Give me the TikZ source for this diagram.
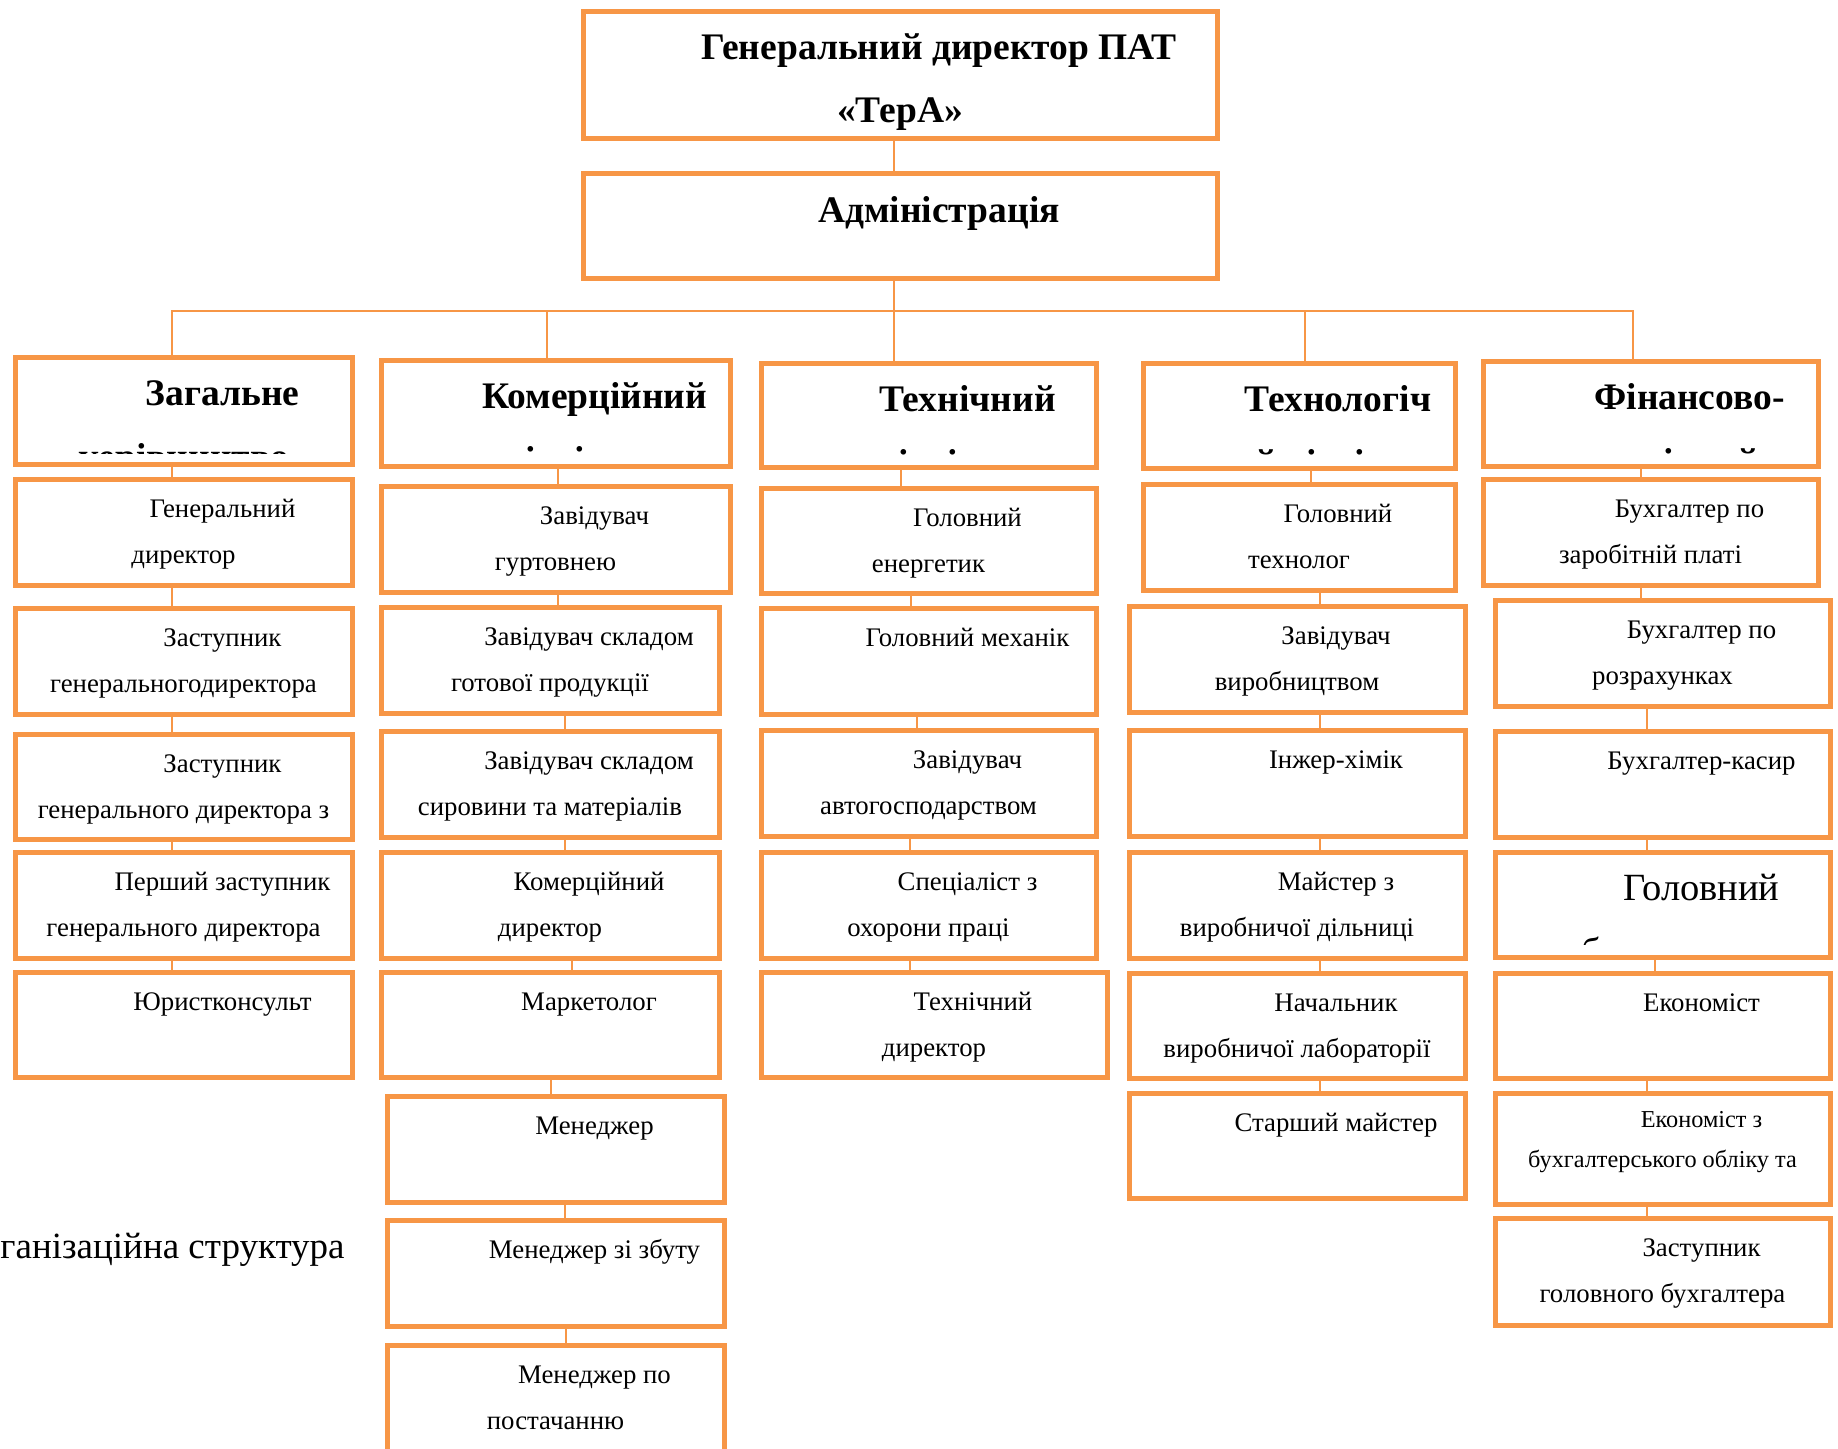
\documentclass[tikz,border=0pt]{standalone}
\usepackage{fontspec}
\setmainfont{Liberation Serif}
\usetikzlibrary{calc}
\definecolor{borange}{RGB}{247,150,70}
\tikzset{
  box/.style={draw=borange, line width=5pt, inner sep=0pt, outer sep=0pt},
  conn/.style={draw=borange, line width=2pt},
  txt/.style={inner sep=0pt, anchor=base, font=\fontsize{26.8}{30}\selectfont},
  stxt/.style={inner sep=0pt, anchor=base, font=\fontsize{24.3}{28}\selectfont},
  htxt/.style={inner sep=0pt, anchor=base, font=\fontsize{37.5}{42}\selectfont\bfseries},
  btxt/.style={inner sep=0pt, anchor=base, font=\fontsize{38.5}{42}\selectfont},
  ctxt/.style={inner sep=0pt, anchor=base west, font=\fontsize{37}{42}\selectfont},
}
\newcommand\mkbox[5]{\node[box, minimum width={(#4)-(#2)}, minimum height={(#5)-(#3)}] (#1) at ({((#2)+(#4))/2},{((#3)+(#5))/2}) {};}
\newcommand\two[3]{%
  \node[txt] (#1a) at ($(#1.north)+(39,38)$) {#2};
  \node[txt] (#1b) at ($(#1.north)+(0,84)$) {#3};}
\newcommand\one[2]{\node[txt] (#1a) at ($(#1.north)+(39,38)$) {#2};}
\newcommand\head[6][htxt]{%
  \node[#1] (#2a) at ($(#2.north)+(39,48)$) {#3};
  \begin{scope}
    \clip ($(#2.north west)+(3,3)$) rectangle ($(#2.north east)+(-3,#6)$);
    \node[#1] (#2b) at ($(#2.north)+(0,#5)$) {#4};
  \end{scope}}
\newcommand\cn[3]{\draw[conn] (#1.south -| k#3) -- (#2.north -| k#3);}
\begin{document}
\begin{tikzpicture}[x=1pt,y=-1pt]
\useasboundingbox (0,0) rectangle (1838,1448);
\clip (0,0) rectangle (1838,1448);
% connector x positions
\foreach \k in {172,547,551,558,565,566,572,894,901,910,911,917,1305,1311,1320,1633,1641,1647,1655}
  {\coordinate (k\k) at (\k,0);}
\coordinate (bus) at (894,311);
% boxes
\mkbox{top}{583}{11}{1217}{138}
\mkbox{adm}{583}{173}{1217}{278}
\mkbox{H1}{15}{357}{352}{464}
\mkbox{A1}{15}{479}{352}{585}
\mkbox{A2}{15}{608}{352}{714}
\mkbox{A3}{15}{734}{352}{839}
\mkbox{A4}{15}{852}{352}{958}
\mkbox{A5}{15}{972}{352}{1077}
\mkbox{H2}{381}{360}{730}{466}
\mkbox{B1}{381}{486}{730}{592}
\mkbox{B2}{381}{607}{719}{713}
\mkbox{B3}{381}{731}{719}{837}
\mkbox{B4}{381}{852}{719}{958}
\mkbox{B5}{381}{972}{719}{1077}
\mkbox{B6}{387}{1096}{724}{1202}
\mkbox{B7}{387}{1220}{724}{1326}
\mkbox{B8}{387}{1345}{724}{1480}
\mkbox{H3}{761}{363}{1096}{467}
\mkbox{C1}{761}{488}{1096}{593}
\mkbox{C2}{761}{608}{1096}{714}
\mkbox{C3}{761}{730}{1096}{836}
\mkbox{C4}{761}{852}{1096}{958}
\mkbox{C5}{761}{972}{1107}{1077}
\mkbox{H4}{1143}{363}{1455}{468}
\mkbox{D1}{1143}{484}{1455}{590}
\mkbox{D2}{1129}{606}{1465}{712}
\mkbox{D3}{1129}{730}{1465}{836}
\mkbox{D4}{1129}{852}{1465}{958}
\mkbox{D5}{1129}{973}{1465}{1078}
\mkbox{D6}{1129}{1093}{1465}{1198}
\mkbox{H5}{1483}{361}{1818}{466}
\mkbox{E1}{1483}{479}{1818}{585}
\mkbox{E2}{1495}{600}{1830}{706}
\mkbox{E3}{1495}{731}{1830}{837}
\mkbox{E4}{1495}{852}{1830}{957}
\mkbox{E5}{1495}{973}{1830}{1078}
\mkbox{E6}{1495}{1093}{1830}{1204}
\mkbox{E7}{1495}{1218}{1830}{1325}
% top connectors and bus
\draw[conn] (top.south -| k894) -- (adm.north -| k894);
\draw[conn] (adm.south -| k894) -- (bus);
\draw[conn] (H1.north -| k172) -- (k172 |- bus) -- (k1633 |- bus) -- (H5.north -| k1633);
\draw[conn] (k547 |- bus) -- (H2.north -| k547);
\draw[conn] (bus) -- (H3.north -| k894);
\draw[conn] (k1305 |- bus) -- (H4.north -| k1305);
% column connectors
\cn{H1}{A1}{172}\cn{A1}{A2}{172}\cn{A2}{A3}{172}\cn{A3}{A4}{172}\cn{A4}{A5}{172}
\cn{H2}{B1}{558}\cn{B1}{B2}{558}\cn{B2}{B3}{565}\cn{B3}{B4}{565}\cn{B4}{B5}{572}
\cn{B5}{B6}{551}\cn{B6}{B7}{565}\cn{B7}{B8}{566}
\cn{H3}{C1}{901}\cn{C1}{C2}{911}\cn{C2}{C3}{917}\cn{C3}{C4}{910}\cn{C4}{C5}{910}
\cn{H4}{D1}{1311}\cn{D1}{D2}{1320}\cn{D2}{D3}{1320}\cn{D3}{D4}{1320}\cn{D4}{D5}{1320}\cn{D5}{D6}{1320}
\cn{H5}{E1}{1641}\cn{E1}{E2}{1641}\cn{E2}{E3}{1647}\cn{E3}{E4}{1647}\cn{E4}{E5}{1655}
\cn{E5}{E6}{1647}\cn{E6}{E7}{1647}
% top texts
\node[htxt] (topa) at ($(top.north)+(39,48)$) {Генеральний директор ПАТ};
\node[htxt] (topb) at ($(top.north)+(0,111)$) {«ТерА»};
\node[htxt] (adma) at ($(adm.north)+(39,49)$) {Адміністрація};
% headers
\head{H1}{Загальне}{керівництво}{112}{96}
\head{H2}{Комерційний}{відділ}{112}{92}
\head{H3}{Технічний}{відділ}{112}{92}
\head{H4}{Технологіч}{ний відділ}{112}{92}
\head{H5}{Фінансово-}{економічний}{113}{94}
% column 1
\two{A1}{Генеральний}{директор}
\two{A2}{Заступник}{генеральногодиректора}
\two{A3}{Заступник}{генерального директора з}
\two{A4}{Перший заступник}{генерального директора}
\one{A5}{Юристконсульт}
% column 2
\two{B1}{Завідувач}{гуртовнею}
\two{B2}{Завідувач складом}{готової продукції}
\two{B3}{Завідувач складом}{сировини та матеріалів}
\two{B4}{Комерційний}{директор}
\one{B5}{Маркетолог}
\one{B6}{Менеджер}
\one{B7}{Менеджер зі збуту}
\two{B8}{Менеджер по}{постачанню}
% column 3
\two{C1}{Головний}{енергетик}
\one{C2}{Головний механік}
\two{C3}{Завідувач}{автогосподарством}
\two{C4}{Спеціаліст з}{охорони праці}
\two{C5}{Технічний}{директор}
% column 4
\two{D1}{Головний}{технолог}
\two{D2}{Завідувач}{виробництвом}
\one{D3}{Інжер-хімік}
\two{D4}{Майстер з}{виробничої дільниці}
\two{D5}{Начальник}{виробничої лабораторії}
\one{D6}{Старший майстер}
% column 5
\two{E1}{Бухгалтер по}{заробітній платі}
\two{E2}{Бухгалтер по}{розрахунках}
\one{E3}{Бухгалтер-касир}
\head[btxt]{E4}{Головний}{бухгалтер}{112}{92}
\one{E5}{Економіст}
\node[stxt] (E6a) at ($(E6.north)+(39,34)$) {Економіст з};
\node[stxt] (E6b) at ($(E6.north)+(0,74)$) {бухгалтерського обліку та};
\two{E7}{Заступник}{головного бухгалтера}
% caption fragment
\node[ctxt] (cap) at (-45,1258) {Організаційна структура};
\end{tikzpicture}
\end{document}
